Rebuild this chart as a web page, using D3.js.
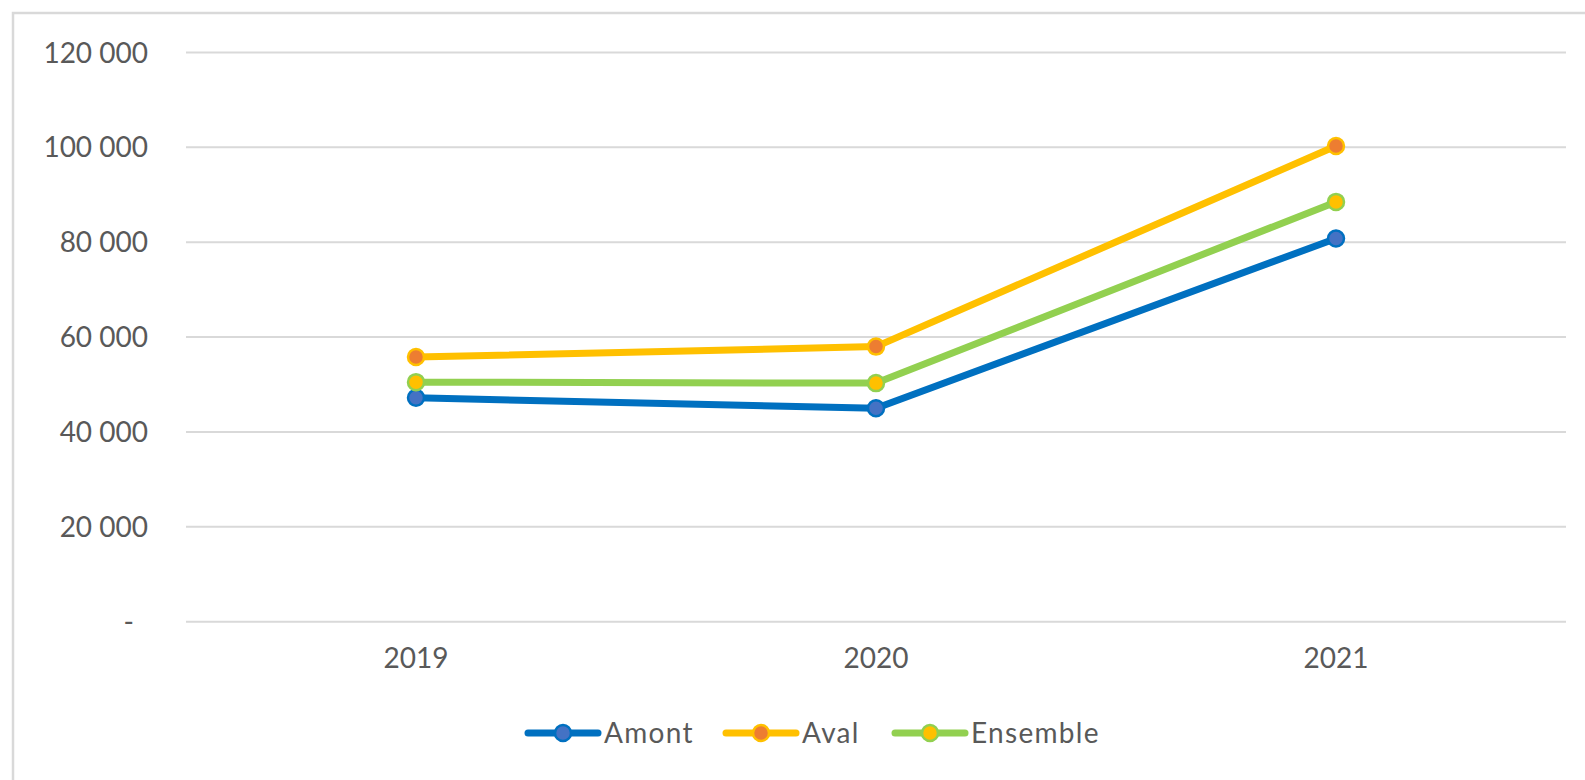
<!DOCTYPE html>
<html>
<head>
<meta charset="utf-8">
<script src="https://cdn.jsdelivr.net/npm/d3@7"></script>
<style>
  html, body { margin: 0; padding: 0; background: #fff; }
  svg { display: block; }
  text { font-family: Lato, "Open Sans", sans-serif; fill: #595959; }
</style>
</head>
<body>
<svg id="chart" width="1585" height="780"></svg>
<script>
const categories = ["2019", "2020", "2021"];
const amont = [47200, 45000, 80800];
const aval = [55800, 58000, 100300];
const ensemble = [50500, 50300, 88500];
const yTicks = [0, 20000, 40000, 60000, 80000, 100000, 120000];
const yTickLabels = ["-", "20 000", "40 000", "60 000", "80 000", "100 000", "120 000"];

const series = [
  { name: "Amont", values: amont, line: "#0070C0", fill: "#4472C4" },
  { name: "Aval", values: aval, line: "#FFC000", fill: "#ED7D31" },
  { name: "Ensemble", values: ensemble, line: "#92D050", fill: "#FFC000" }
];

const svg = d3.select("#chart");

// outer chart border (top/left visible, rest cropped)
svg.append("rect")
  .attr("x", 13).attr("y", 13)
  .attr("width", 1600).attr("height", 800)
  .attr("fill", "none").attr("stroke", "#d9d9d9").attr("stroke-width", 2.5);

const plot = { left: 186, right: 1566, top: 52.5, bottom: 621.7 };

const x = d3.scaleBand().domain(categories).range([plot.left, plot.right]);
const y = d3.scaleLinear().domain([0, 120000]).range([plot.bottom, plot.top]);

// gridlines
svg.append("g").selectAll("line").data(yTicks).join("line")
  .attr("x1", plot.left).attr("x2", plot.right)
  .attr("y1", d => y(d)).attr("y2", d => y(d))
  .attr("stroke", "#d9d9d9").attr("stroke-width", 2);

// y labels
svg.append("g").selectAll("text").data(yTicks).join("text")
  .attr("x", (d, i) => i === 0 ? 134 : 148)
  .attr("y", d => y(d))
  .attr("dy", "0.36em")
  .attr("text-anchor", "end")
  .attr("font-size", 28)
  .text((d, i) => yTickLabels[i]);

// x labels
svg.append("g").selectAll("text").data(categories).join("text")
  .attr("x", d => x(d) + x.bandwidth() / 2)
  .attr("y", 668)
  .attr("text-anchor", "middle")
  .attr("font-size", 28)
  .text(d => d);

const line = d3.line()
  .x((d, i) => x(categories[i]) + x.bandwidth() / 2)
  .y(d => y(d));

series.forEach(s => {
  const g = svg.append("g");
  g.append("path").datum(s.values)
    .attr("d", line)
    .attr("fill", "none")
    .attr("stroke", s.line)
    .attr("stroke-width", 7)
    .attr("stroke-linejoin", "round");
  g.selectAll("circle").data(s.values).join("circle")
    .attr("cx", (d, i) => x(categories[i]) + x.bandwidth() / 2)
    .attr("cy", d => y(d))
    .attr("r", 8)
    .attr("fill", s.fill)
    .attr("stroke", s.line)
    .attr("stroke-width", 2.5);
});

// legend
const legendX = [528, 726, 895];
const legendY = 733;
series.forEach((s, i) => {
  const g = svg.append("g").attr("transform", `translate(${legendX[i]},${legendY})`);
  g.append("line").attr("x1", 0).attr("x2", 70).attr("y1", 0).attr("y2", 0)
    .attr("stroke", s.line).attr("stroke-width", 7).attr("stroke-linecap", "round");
  g.append("circle").attr("cx", 35).attr("cy", 0).attr("r", 8)
    .attr("fill", s.fill).attr("stroke", s.line).attr("stroke-width", 2.5);
  g.append("text").attr("x", 76).attr("y", 0).attr("dy", "0.36em")
    .attr("font-size", 28).attr("letter-spacing", 1.3).text(s.name);
});
</script>
</body>
</html>
